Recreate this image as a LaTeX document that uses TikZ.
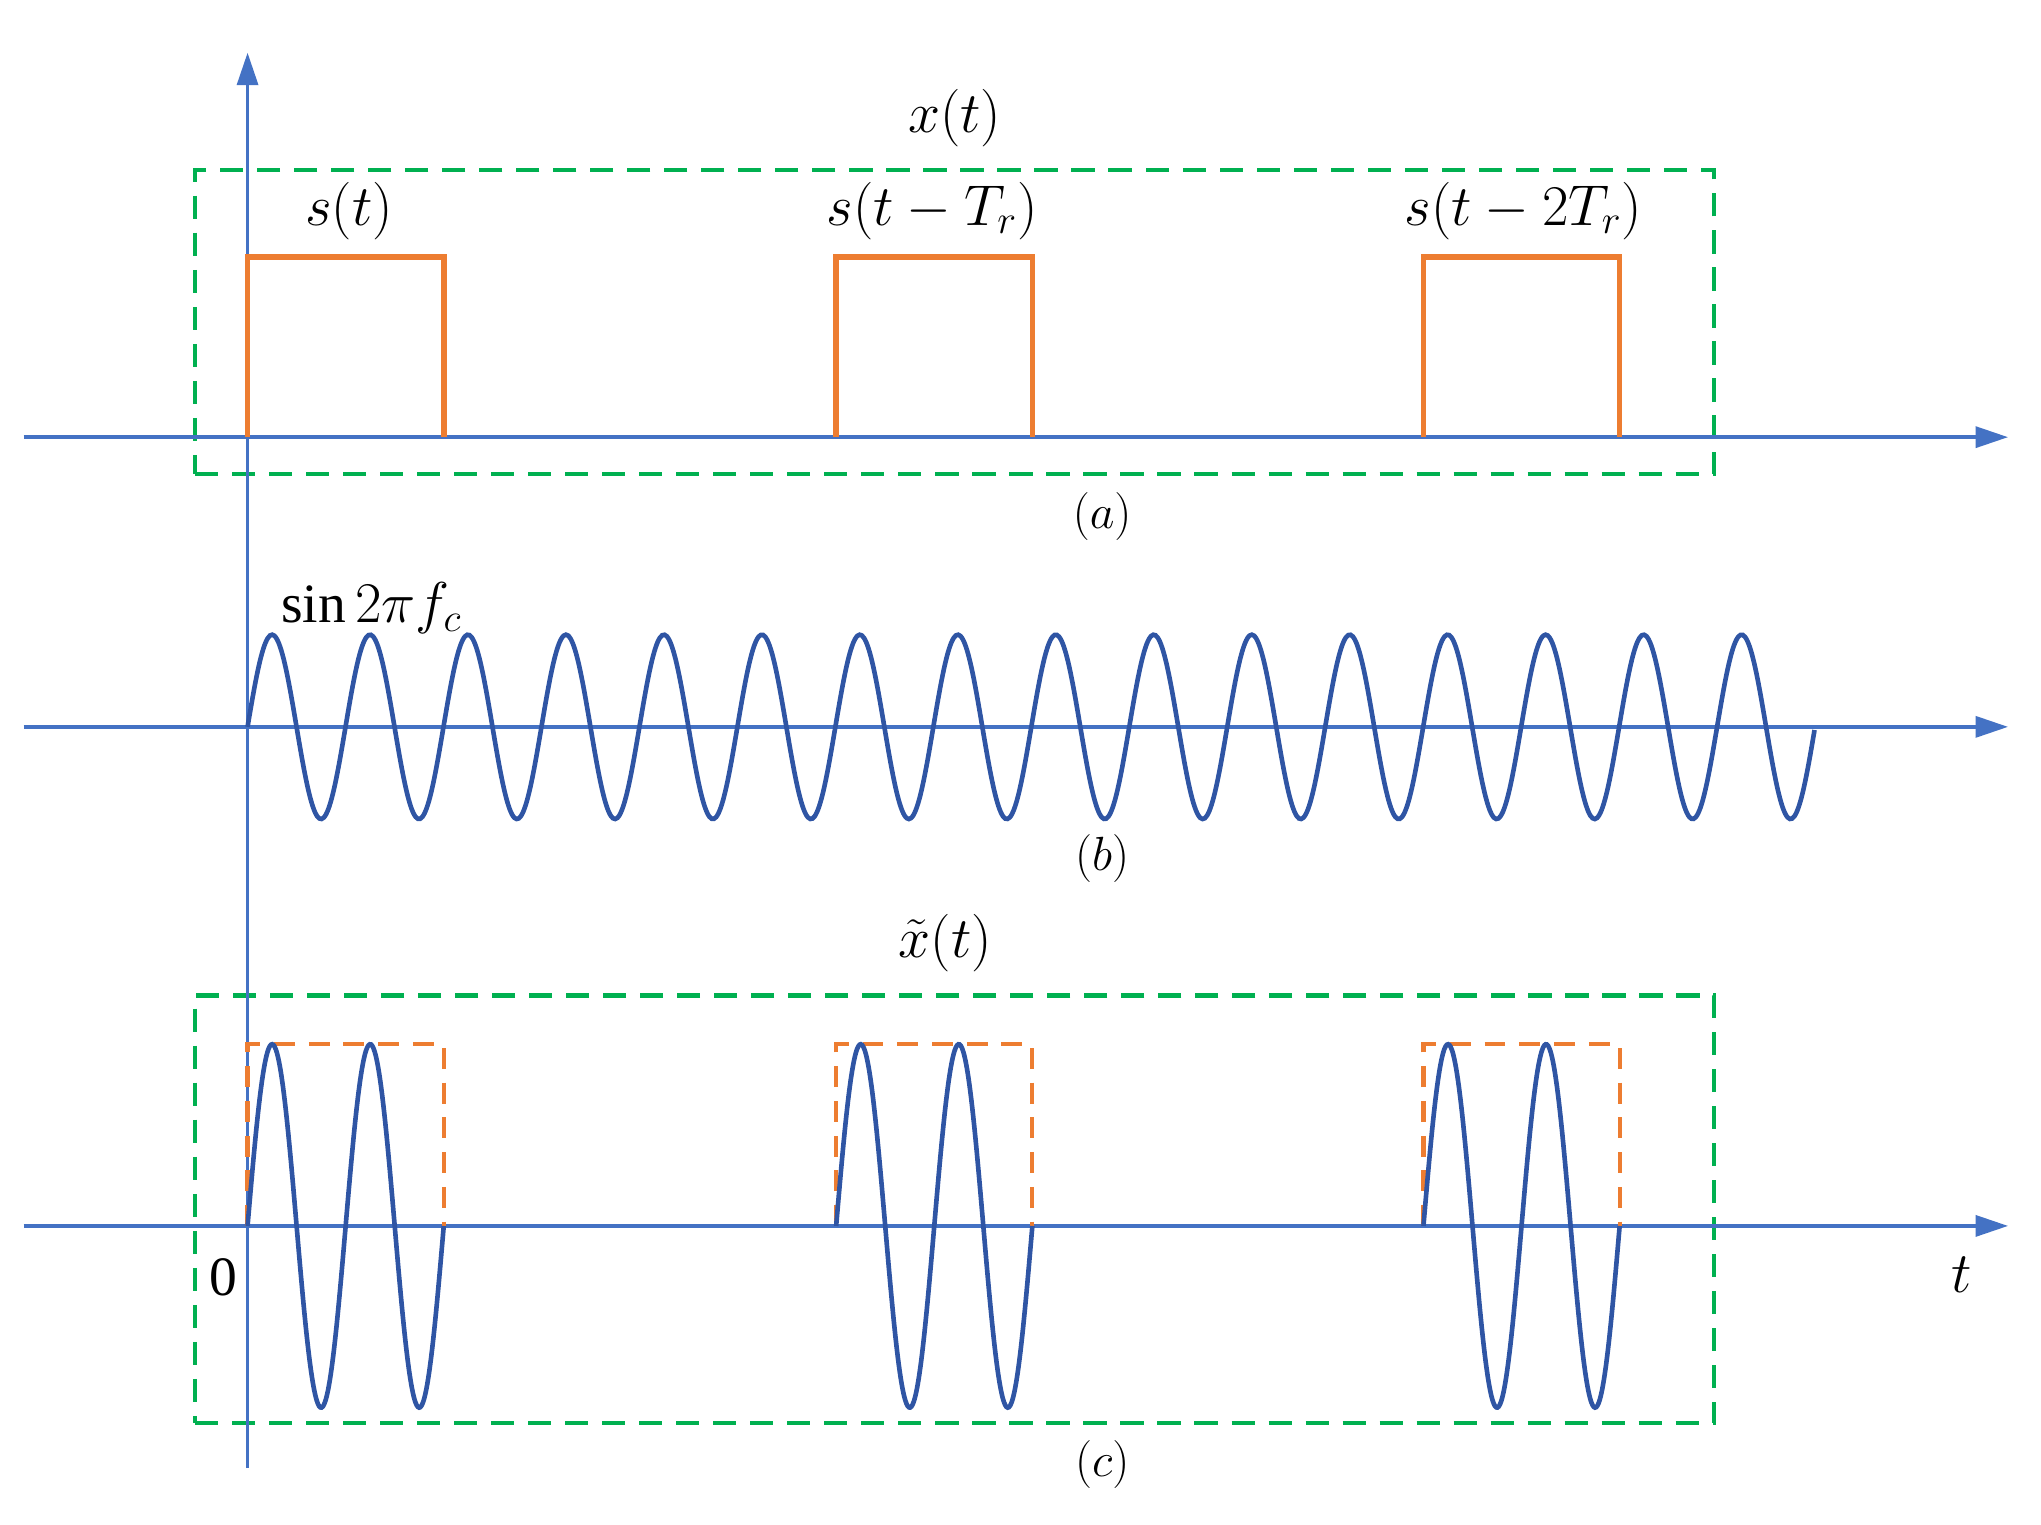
\documentclass[tikz,border=0pt]{standalone}
\usepackage{fontspec}
\setmainfont{Liberation Serif}
\usetikzlibrary{arrows.meta}
\definecolor{ax}{HTML}{4472C4}
\definecolor{og}{HTML}{ED7D31}
\definecolor{gr}{HTML}{00B050}
\definecolor{sn}{HTML}{2F55A4}
\begin{document}
\begin{tikzpicture}[x=0.02cm,y=-0.02cm,
  axis/.style={ax,line width=1.6pt,-{Triangle[length=14pt,width=9pt]}},
  box/.style={gr,line width=1.8pt,dash pattern=on 10pt off 6pt},
  pulse/.style={og,line width=2.4pt},
  dpulse/.style={og,line width=1.8pt,dash pattern=on 9pt off 6pt},
  wave/.style={sn,line width=2pt},
  lab/.style={font=\fontsize{24}{28}\selectfont,inner sep=1pt},
  sublab/.style={font=\fontsize{20}{24}\selectfont,inner sep=1pt}]
\useasboundingbox (0,0) rectangle (1550,1158);
% boxes
\node[box,draw,minimum width=23.08cm,minimum height=4.62cm,inner sep=0] (boxa) at (725,244.5) {};
\node[box,draw,minimum width=23.08cm,minimum height=6.5cm,inner sep=0] (boxc) at (725,918.5) {};
% axes
\coordinate (a0) at (18,332); \coordinate (a1) at (1525,332);
\coordinate (b0) at (18,552); \coordinate (b1) at (1525,552);
\coordinate (c0) at (18,931); \coordinate (c1) at (1525,931);
\coordinate (v0) at (188,1115); \coordinate (v1) at (188,40);
\draw[axis] (a0) -- (a1);
\draw[axis] (b0) -- (b1);
\draw[axis] (c0) -- (c1);
\draw[axis] (v0) -- (v1);
% pulses (a)
\foreach \s in {188,635,1081}{
  \draw[pulse] (\s,332) -- (\s,195) -- (\s+149,195) -- (\s+149,332);
}
% carrier (b)
\draw[wave] plot[domain=188:1378,samples=700,smooth] (\x,{552-70*sin(4.8387*(\x-188))});
% modulated (c)
\foreach \s in {188,635,1081}{
  \draw[dpulse] (\s,931) -- (\s,793) -- (\s+149,793) -- (\s+149,931);
  \draw[wave] plot[domain=\s:\s+149,samples=160,smooth] (\x,{931-138*sin(4.8322*(\x-\s))});
}
% labels
\node[lab] (lx) at (725,90) {$x\big(t\big)$};
\node[lab] (ls1) at (265,160) {$s\big(t\big)$};
\node[lab] (ls2) at (708,160) {$s\big(t-T_r\big)$};
\node[lab] (ls3) at (1157,160) {$s\big(t-2T_r\big)$};
\node[sublab] (ca) at (837,392) {$\big(a\big)$};
\node[lab] (lsin) at (282,462) {$\sin 2\pi f_c$};
\node[sublab] (cb) at (837,652) {$\big(b\big)$};
\node[lab] (lxt) at (718,716) {$\tilde{x}\big(t\big)$};
\node[lab] (l0) at (170,970) {0};
\node[lab] (lt) at (1490,968) {$t$};
\node[sublab] (cc) at (837,1112) {$\big(c\big)$};
\end{tikzpicture}
\end{document}
